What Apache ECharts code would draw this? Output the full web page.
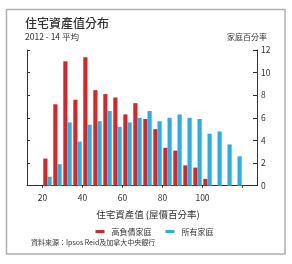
<!DOCTYPE html>
<html>
<head>
<meta charset="utf-8">
<script src="https://cdn.jsdelivr.net/npm/echarts@6/dist/echarts.min.js"></script>
<style>
html,body{margin:0;padding:0;background:#fff;}
#c{width:292px;height:264px;}
</style>
</head>
<body>
<div id="c"></div>
<script>
const categories = [20,25,30,35,40,45,50,55,60,65,70,75,80,85,90,95,100,105,110,115];
const highDebt = [2.4,7.2,11.0,7.6,11.35,8.45,8.1,7.8,6.3,7.3,5.9,5.0,3.35,3.1,1.8,1.6,0.6,0,0,0];
const allHouseholds = [0.8,1.9,5.6,3.9,5.4,5.7,6.6,5.2,5.6,6.0,6.6,5.7,6.0,6.3,6.0,5.9,4.6,4.8,3.65,2.6];
const xTickLabels = [20,40,60,80,100];
const yTicks = [0,2,4,6,8,10,12];
const seriesNames = ['高負債家庭','所有家庭'];

const FONT = '"Noto Sans CJK TC","Noto Sans",sans-serif';
const AX = '#333';
const chart = echarts.init(document.getElementById('c'), null, {renderer:'canvas'});
const gTop = 50, gBottom = 78.3;
chart.setOption({
  animation:false,
  textStyle:{fontFamily:FONT},
  grid:[
    {left:42.5, right:49.5, top:gTop, bottom:gBottom},
    {left:27, right:35, top:gTop, bottom:gBottom}
  ],
  legend:{
    data:seriesNames, left:90.5, top:222.5, icon:'rect', itemWidth:9, itemHeight:3, itemGap:14,
    textStyle:{fontSize:8, color:'#333', fontFamily:FONT, padding:[0,0,0,2]}
  },
  xAxis:[
    {type:'category', gridIndex:0, data:categories, show:false},
    {type:'value', gridIndex:0, min:20, max:120, interval:20, position:'bottom',
      axisLine:{show:false}, splitLine:{show:false},
      axisTick:{show:true, length:2, lineStyle:{color:AX}},
      axisLabel:{fontSize:8.5, color:'#333', margin:8, fontFamily:FONT,
        formatter:v => xTickLabels.indexOf(v) >= 0 ? String(v) : ''}},
    {type:'value', gridIndex:1, min:0, max:1, show:true,
      axisLine:{show:true, lineStyle:{color:AX, width:1}}, axisTick:{show:false},
      axisLabel:{show:false}, splitLine:{show:false}}
  ],
  yAxis:[
    {type:'value', gridIndex:0, min:0, max:12, show:false},
    {type:'value', gridIndex:1, min:0, max:12, interval:2, position:'left',
      axisLine:{show:true, lineStyle:{color:AX}},
      axisTick:{show:true, inside:true, length:3, lineStyle:{color:AX}},
      axisLabel:{show:false}, splitLine:{show:false}},
    {type:'value', gridIndex:1, min:0, max:12, interval:2, position:'right',
      axisLine:{show:true, lineStyle:{color:AX}},
      axisTick:{show:true, inside:true, length:4, lineStyle:{color:AX}},
      axisLabel:{fontSize:8.5, color:'#333', margin:4, fontFamily:FONT},
      splitLine:{show:false}}
  ],
  series:[
    {name:seriesNames[0], type:'bar', xAxisIndex:0, yAxisIndex:0, data:highDebt,
      itemStyle:{color:'#d2282c'}, barGap:'0%', barCategoryGap:'16%'},
    {name:seriesNames[1], type:'bar', xAxisIndex:0, yAxisIndex:0, data:allHouseholds,
      itemStyle:{color:'#2aaee4'}, barGap:'0%', barCategoryGap:'16%'}
  ],
  graphic:[
    {type:'rect', shape:{x:6.5, y:9.5, width:278.5, height:244.5}, style:{fill:null, stroke:'#b0b0b0', lineWidth:1.5}, z:-1},
    {type:'text', x:25, y:23, style:{text:'住宅資產值分布', font:'500 12px '+FONT, fill:'#333', textVerticalAlign:'middle'}},
    {type:'text', x:25, y:36.5, style:{text:'2012 - 14 平均', font:'8.5px '+FONT, fill:'#333', textVerticalAlign:'middle'}},
    {type:'text', x:247, y:37, style:{text:'家庭百分率', font:'8px '+FONT, fill:'#333', textAlign:'center', textVerticalAlign:'middle'}},
    {type:'text', x:148, y:214.5, style:{text:'住宅資產值 (屋價百分率)', font:'9.5px '+FONT, fill:'#333', textAlign:'center', textVerticalAlign:'middle'}},
    {type:'text', x:31, y:242.5, style:{text:'資料來源：Ipsos Reid及加拿大中央銀行', font:'7px '+FONT, fill:'#333', textVerticalAlign:'middle'}}
  ]
});
</script>
</body>
</html>
